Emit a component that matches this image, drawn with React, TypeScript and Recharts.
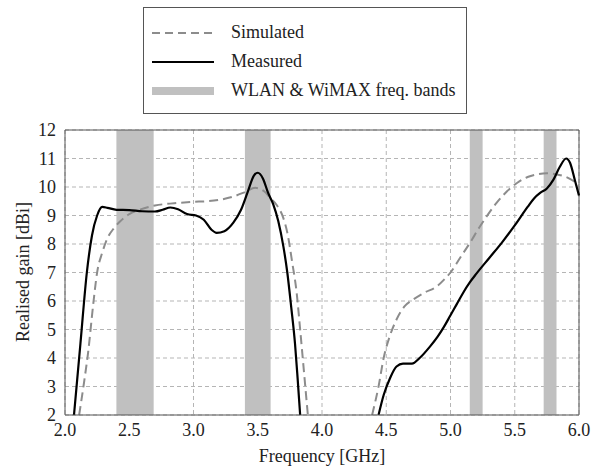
import * as React from "react";
import {
  LineChart,
  Line,
  XAxis,
  YAxis,
  CartesianGrid,
  ReferenceArea,
  ReferenceLine,
} from "recharts";

// Frequency [GHz] / realised gain [dBi]
const simLowFreq = [2.11, 2.15, 2.18, 2.22, 2.25, 2.29, 2.33, 2.38, 2.43, 2.5, 2.58, 2.7, 2.85, 3.0, 3.1, 3.2, 3.3, 3.4, 3.48, 3.55, 3.6, 3.65, 3.7, 3.73, 3.77, 3.8, 3.83, 3.86, 3.89];
const simLowGain = [2, 3.2, 4.2, 5.9, 7.0, 7.7, 8.2, 8.55, 8.8, 9.05, 9.2, 9.35, 9.43, 9.48, 9.5, 9.55, 9.65, 9.82, 9.97, 9.85, 9.6, 9.35, 8.9, 8.4, 7.3, 6.4, 5.0, 3.5, 2];

const simHighFreq = [4.39, 4.44, 4.48, 4.53, 4.58, 4.64, 4.71, 4.8, 4.89, 4.95, 5.0, 5.08, 5.15, 5.22, 5.28, 5.36, 5.44, 5.52, 5.6, 5.68, 5.75, 5.82, 5.9, 5.96, 6.0];
const simHighGain = [2, 3.0, 4.0, 4.8, 5.35, 5.8, 6.05, 6.3, 6.5, 6.75, 7.0, 7.55, 8.03, 8.55, 8.96, 9.45, 9.85, 10.15, 10.35, 10.45, 10.48, 10.45, 10.35, 10.2, 10.05];

const measLowFreq = [2.07, 2.12, 2.17, 2.21, 2.25, 2.29, 2.33, 2.4, 2.5, 2.6, 2.7, 2.76, 2.82, 2.88, 2.95, 3.02, 3.08, 3.14, 3.18, 3.24, 3.31, 3.37, 3.42, 3.47, 3.5, 3.54, 3.58, 3.62, 3.66, 3.7, 3.73, 3.76, 3.79, 3.81, 3.83];
const measLowGain = [2, 4.5, 7.0, 8.3, 9.0, 9.3, 9.27, 9.2, 9.19, 9.15, 9.14, 9.2, 9.28, 9.22, 9.05, 9.0, 8.85, 8.5, 8.39, 8.45, 8.75, 9.2, 9.8, 10.4, 10.5, 10.3, 9.8, 9.4, 8.8, 7.9, 7.0, 5.8, 4.5, 3.3, 2];

const measHighFreq = [4.44, 4.48, 4.53, 4.58, 4.63, 4.7, 4.76, 4.84, 4.9, 4.95, 5.0, 5.05, 5.1, 5.15, 5.2, 5.3, 5.4, 5.5, 5.6, 5.65, 5.7, 5.75, 5.8, 5.85, 5.9, 5.93, 5.97, 6.0];
const measHighGain = [2, 2.7, 3.3, 3.7, 3.8, 3.8, 4.0, 4.4, 4.75, 5.1, 5.5, 5.9, 6.3, 6.65, 6.95, 7.5, 8.05, 8.65, 9.3, 9.6, 9.8, 9.95, 10.25, 10.7, 11.0, 10.85, 10.2, 9.7];

// WLAN & WiMAX bands [GHz]
const bandStart = [2.4, 3.4, 5.15, 5.725];
const bandEnd = [2.69, 3.6, 5.25, 5.825];

const xTicks = [2.0, 2.5, 3.0, 3.5, 4.0, 4.5, 5.0, 5.5, 6.0];
const yTicks = [2, 3, 4, 5, 6, 7, 8, 9, 10, 11, 12];

const toPoints = (f: number[], g: number[]) => f.map((x, i) => ({ f: x, g: g[i] }));

const FONT = "Liberation Serif, Tinos, Times New Roman, Times, DejaVu Serif, serif";

function LegendBox() {
  const row: React.CSSProperties = { display: "flex", alignItems: "center", height: 29 };
  const text: React.CSSProperties = { fontSize: 18, color: "#222", marginLeft: 17, fontFamily: FONT };
  return (
    <div
      style={{
        position: "absolute",
        left: 143,
        top: 7,
        width: 306,
        padding: "10px 8px 8px 8px",
        border: "1px solid #555",
        background: "#fff",
        fontFamily: FONT,
        zIndex: 2,
      }}
    >
      <div style={row}>
        <svg width={62} height={6}>
          <line x1={0} y1={3} x2={62} y2={3} stroke="#8c8c8c" strokeWidth={1.8} strokeDasharray="8 5" />
        </svg>
        <span style={text}>Simulated</span>
      </div>
      <div style={row}>
        <svg width={62} height={6}>
          <line x1={0} y1={3} x2={62} y2={3} stroke="#000" strokeWidth={2.2} />
        </svg>
        <span style={text}>Measured</span>
      </div>
      <div style={row}>
        <svg width={62} height={10}>
          <line x1={0} y1={5} x2={62} y2={5} stroke="#c0c0c0" strokeWidth={8} />
        </svg>
        <span style={text}>WLAN &amp; WiMAX freq. bands</span>
      </div>
    </div>
  );
}

export default function App() {
  const tickStyle = { fontSize: 18, fill: "#222", fontFamily: FONT };
  return (
    <div
      style={{
        position: "absolute",
        left: 0,
        top: 0,
        width: 608,
        height: 471,
        background: "#fff",
        fontFamily: FONT,
      }}
    >
      <LegendBox />
      <LineChart
        width={608}
        height={471}
        margin={{ top: 130, right: 29, bottom: 16, left: 0 }}
        style={{ fontFamily: FONT }}
      >
        <CartesianGrid stroke="#b5b5b5" strokeDasharray="4 3" />
        {bandStart.map((b, i) => (
          <ReferenceArea key={`band-${i}`} x1={b} x2={bandEnd[i]} fill="#c0c0c0" fillOpacity={1} stroke="none" />
        ))}
        <XAxis
          type="number"
          dataKey="f"
          domain={[2, 6]}
          ticks={xTicks}
          interval={0}
          tickFormatter={(v: number) => v.toFixed(1)}
          tick={tickStyle}
          tickLine={false}
          tickMargin={2}
          height={40}
          stroke="#555"
          allowDuplicatedCategory={false}
          label={{
            content: () => (
              <text x={322} y={462} textAnchor="middle" fontSize={18} fill="#222" fontFamily={FONT}>
                Frequency [GHz]
              </text>
            ),
          }}
        />
        <YAxis
          type="number"
          domain={[2, 12]}
          ticks={yTicks}
          interval={0}
          tick={tickStyle}
          tickLine={false}
          tickMargin={3}
          width={65}
          stroke="#555"
          label={{
            content: () => (
              <text
                x={0}
                y={0}
                transform="translate(25, 272) rotate(-90)"
                textAnchor="middle"
                dominantBaseline="middle"
                fontSize={18}
                fill="#222"
                fontFamily={FONT}
              >
                Realised gain [dBi]
              </text>
            ),
          }}
        />
        <ReferenceLine y={12} stroke="#555" />
        <ReferenceLine x={6} stroke="#555" />
        <Line
          data={toPoints(simLowFreq, simLowGain)}
          dataKey="g"
          type="monotone"
          stroke="#8c8c8c"
          strokeWidth={2}
          strokeDasharray="9 5"
          dot={false}
          isAnimationActive={false}
        />
        <Line
          data={toPoints(simHighFreq, simHighGain)}
          dataKey="g"
          type="monotone"
          stroke="#8c8c8c"
          strokeWidth={2}
          strokeDasharray="9 5"
          dot={false}
          isAnimationActive={false}
        />
        <Line
          data={toPoints(measLowFreq, measLowGain)}
          dataKey="g"
          type="monotone"
          stroke="#000"
          strokeWidth={2.2}
          dot={false}
          isAnimationActive={false}
        />
        <Line
          data={toPoints(measHighFreq, measHighGain)}
          dataKey="g"
          type="monotone"
          stroke="#000"
          strokeWidth={2.2}
          dot={false}
          isAnimationActive={false}
        />
      </LineChart>
    </div>
  );
}
